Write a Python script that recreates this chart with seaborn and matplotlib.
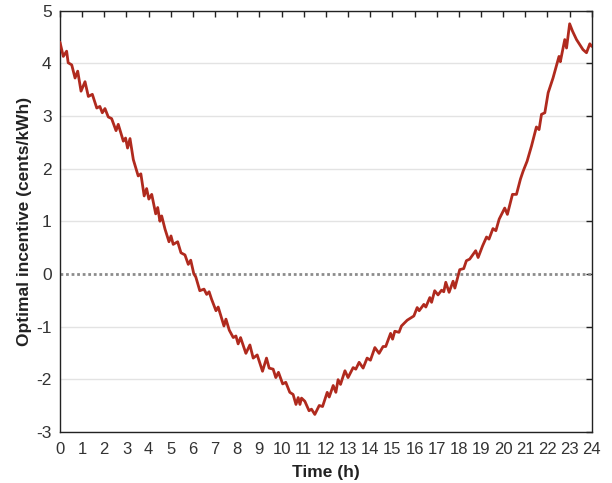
import numpy as np
import pandas as pd
import matplotlib
matplotlib.use('Agg')
import matplotlib.pyplot as plt
import seaborn as sns

# Optimal incentive over the day
hours = [0.00, 0.15, 0.30, 0.37, 0.53, 0.68, 0.80, 0.95, 1.13, 1.28, 1.46, 1.66, 1.80, 1.91,
         2.03, 2.18, 2.33, 2.53, 2.63, 2.86, 2.96, 3.05, 3.16, 3.31, 3.53, 3.65, 3.80, 3.91,
         4.01, 4.14, 4.32, 4.41, 4.51, 4.59, 4.74, 4.92, 5.01, 5.11, 5.31, 5.46, 5.64, 5.79,
         5.90, 6.04, 6.13, 6.31, 6.50, 6.62, 6.73, 6.84, 7.04, 7.14, 7.40, 7.49, 7.64, 7.82,
         7.94, 8.04, 8.15, 8.39, 8.57, 8.72, 8.90, 9.14, 9.32, 9.44, 9.62, 9.74, 9.86, 10.05,
         10.19, 10.37, 10.52, 10.65, 10.75, 10.83, 10.90, 11.05, 11.24, 11.35, 11.50, 11.70,
         11.85, 12.06, 12.15, 12.33, 12.45, 12.55, 12.66, 12.86, 13.00, 13.23, 13.35, 13.50,
         13.68, 13.86, 14.01, 14.21, 14.40, 14.58, 14.70, 14.92, 15.01, 15.11, 15.30, 15.41,
         15.67, 15.82, 15.97, 16.12, 16.21, 16.42, 16.51, 16.69, 16.77, 16.91, 17.06, 17.22,
         17.32, 17.41, 17.56, 17.74, 17.82, 18.04, 18.22, 18.34, 18.49, 18.76, 18.87, 19.07,
         19.25, 19.36, 19.54, 19.67, 19.82, 20.07, 20.19, 20.30, 20.42, 20.60, 20.78, 20.90,
         21.08, 21.28, 21.50, 21.62, 21.73, 21.88, 22.03, 22.25, 22.52, 22.58, 22.78, 22.86,
         23.00, 23.13, 23.31, 23.60, 23.76, 23.91, 24.00]
incentive = [4.40, 4.13, 4.23, 4.01, 3.97, 3.72, 3.85, 3.47, 3.65, 3.37, 3.41, 3.15, 3.18, 3.06,
             3.14, 2.98, 2.95, 2.72, 2.84, 2.52, 2.58, 2.39, 2.57, 2.17, 1.86, 1.90, 1.48, 1.62,
             1.42, 1.51, 1.14, 1.26, 1.00, 1.10, 0.85, 0.61, 0.72, 0.56, 0.61, 0.40, 0.36, 0.18,
             0.26, 0.00, -0.06, -0.32, -0.29, -0.39, -0.34, -0.48, -0.70, -0.63, -0.99, -0.86,
             -1.07, -1.21, -1.18, -1.33, -1.21, -1.51, -1.35, -1.60, -1.54, -1.85, -1.60, -1.79,
             -1.81, -1.97, -1.87, -2.09, -2.06, -2.25, -2.29, -2.48, -2.35, -2.48, -2.36, -2.42,
             -2.60, -2.57, -2.67, -2.50, -2.52, -2.25, -2.34, -2.12, -2.25, -2.01, -2.10, -1.84,
             -1.97, -1.78, -1.81, -1.68, -1.79, -1.60, -1.64, -1.40, -1.51, -1.38, -1.38, -1.13,
             -1.24, -1.09, -1.11, -0.99, -0.88, -0.84, -0.80, -0.64, -0.70, -0.58, -0.63, -0.45,
             -0.54, -0.32, -0.40, -0.31, -0.34, -0.16, -0.35, -0.14, -0.27, 0.08, 0.10, 0.25,
             0.28, 0.44, 0.31, 0.53, 0.70, 0.66, 0.86, 0.82, 1.04, 1.25, 1.13, 1.31, 1.51, 1.51,
             1.80, 1.95, 2.14, 2.43, 2.79, 2.74, 3.03, 3.06, 3.44, 3.72, 4.13, 4.03, 4.45, 4.29,
             4.75, 4.61, 4.45, 4.26, 4.20, 4.37, 4.32]

x_ticks = list(range(0, 25))
y_ticks = [-3, -2, -1, 0, 1, 2, 3, 4, 5]

df = pd.DataFrame({'hour': hours, 'incentive': incentive})

sns.set_style('white')
plt.rcParams['font.family'] = ['Liberation Sans', 'DejaVu Sans']
plt.rcParams['axes.unicode_minus'] = False

fig = plt.figure(figsize=(6.12, 4.83), dpi=100)
ax = fig.add_axes([0.098, 0.106, 0.869, 0.872])

for yv in y_ticks:
    if yv != 0:
        ax.axhline(yv, color='#e3e3e3', linewidth=1, zorder=0)
ax.axhline(0, color='#8c8c8c', linestyle=(0, (1, 1)), linewidth=2, zorder=1)

sns.lineplot(data=df, x='hour', y='incentive', color='#b02a1e', linewidth=2, ax=ax, zorder=3)

ax.set_xlim(0, 24)
ax.set_ylim(-3, 5)
ax.set_xticks(x_ticks)
ax.set_yticks(y_ticks)
ax.tick_params(direction='in', length=4, width=1, labelsize=12, top=True, right=True,
               color='#222222', labelcolor='#333333')
ax.tick_params(axis='x', pad=7)
ax.tick_params(axis='y', labelsize=12.5, pad=6)
for s in ax.spines.values():
    s.set_color('#222222')
    s.set_linewidth(1)
ax.set_xlabel('Time (h)', fontsize=12.5, fontweight='bold', color='#222222', labelpad=6)
ax.set_ylabel('Optimal incentive (cents/kWh)', fontsize=12.5, fontweight='bold',
              color='#222222', labelpad=3)

fig.savefig('out.png', dpi=100)
